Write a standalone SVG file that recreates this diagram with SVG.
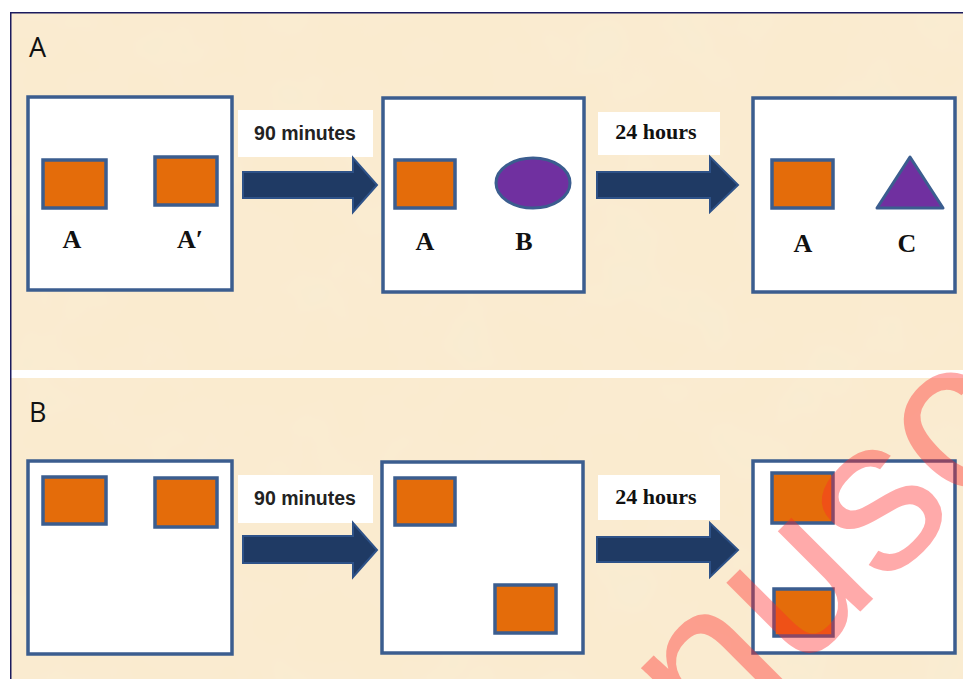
<svg xmlns="http://www.w3.org/2000/svg" width="963" height="679" viewBox="0 0 963 679">
<style>
.frame{fill:#ffffff;stroke:#3b5d8f;stroke-width:3.5}
.sq{fill:#e46c0a;stroke:#3b5d8f;stroke-width:3.5}
.purple{fill:#7030a0;stroke:#3b5d8f;stroke-width:3;stroke-linejoin:round}
.arrow{fill:#1f3a64;stroke:#2e5288;stroke-width:2;stroke-linejoin:miter}
.lblbox{fill:#ffffff}
.panel{font-family:"Open Sans","Liberation Sans",sans-serif;font-size:27px;fill:#111111}
.cal{font-family:"Liberation Sans","Open Sans",sans-serif;font-weight:bold;font-size:19.5px;fill:#222222;text-anchor:middle}
.tms{font-family:"Liberation Serif","Times New Roman",serif;font-weight:bold;font-size:22px;fill:#111111;text-anchor:middle}
.obj{font-family:"Liberation Serif","Times New Roman",serif;font-weight:bold;font-size:26px;fill:#111111;text-anchor:middle}
.wm{font-family:"Liberation Sans",Arial,sans-serif;font-size:218px;fill:#ff2a2a;fill-opacity:0.4}
</style>
<defs>
<filter id="tex" x="0" y="0" width="100%" height="100%">
<feTurbulence type="fractalNoise" baseFrequency="0.012" numOctaves="3" seed="7"/>
<feColorMatrix type="matrix" values="0 0 0 0 0.94  0 0 0 0 0.85  0 0 0 0 0.68  0.8 0 0 0 -0.3"/>
</filter>
</defs>
<rect x="0" y="0" width="963" height="679" fill="#ffffff"/>
<rect x="10" y="12" width="953" height="667" fill="#faebcf"/>
<rect x="10" y="12" width="953" height="667" filter="url(#tex)"/>
<rect x="10" y="370" width="953" height="8" fill="#ffffff"/>
<path d="M10.75 679 V12.75 H963" fill="none" stroke="#1b1b5e" stroke-width="1.5"/>

<g id="panelA-label"><text class="panel" x="29" y="57">A</text></g>
<g id="panelB-label"><text class="panel" x="29" y="422">B</text></g>

<g id="A1">
<rect class="frame" x="28" y="97" width="204" height="193"/>
<rect class="sq" x="43" y="160" width="63" height="48"/>
<rect class="sq" x="155" y="157" width="62" height="48"/>
<text class="obj" x="72" y="248">A</text>
<text class="obj" x="190" y="248">A′</text>
</g>
<g id="A2">
<rect class="frame" x="383" y="98" width="201" height="194"/>
<rect class="sq" x="395" y="160" width="60" height="48"/>
<ellipse class="purple" cx="533" cy="183" rx="37" ry="25"/>
<text class="obj" x="425" y="250">A</text>
<text class="obj" x="524" y="250">B</text>
</g>
<g id="A3">
<rect class="frame" x="753" y="98" width="202" height="194"/>
<rect class="sq" x="772" y="160" width="61" height="48"/>
<polygon class="purple" points="910,157 943,208 877,208"/>
<text class="obj" x="803" y="252">A</text>
<text class="obj" x="907" y="252">C</text>
</g>

<g id="B1">
<rect class="frame" x="28" y="461" width="204" height="193"/>
<rect class="sq" x="43" y="477" width="63" height="47"/>
<rect class="sq" x="155" y="478" width="62" height="49"/>
</g>
<g id="B2">
<rect class="frame" x="382" y="462" width="201" height="191"/>
<rect class="sq" x="395" y="478" width="60" height="47"/>
<rect class="sq" x="495" y="585" width="61" height="48"/>
</g>
<g id="B3">
<rect class="frame" x="753" y="461" width="202" height="192"/>
<rect class="sq" x="772" y="473" width="61" height="50"/>
<rect class="sq" x="774" y="589" width="59" height="47"/>
</g>

<g id="connectors">
<g id="A1-A2">
<rect class="lblbox" x="238" y="110" width="135" height="47"/>
<text class="cal" x="305" y="140">90 minutes</text>
<polygon class="arrow" points="243,172 353,172 353,158 377,185 353,212 353,198 243,198"/>
</g>
<g id="A2-A3">
<rect class="lblbox" x="598" y="112" width="122" height="43"/>
<text class="tms" x="656" y="139">24 hours</text>
<polygon class="arrow" points="597,172 710,172 710,157 738,185 710,212 710,198 597,198"/>
</g>
<g id="B1-B2">
<rect class="lblbox" x="238" y="475" width="135" height="48"/>
<text class="cal" x="305" y="505">90 minutes</text>
<polygon class="arrow" points="243,536 353,536 353,523 377,550 353,577 353,563 243,563"/>
</g>
<g id="B2-B3">
<rect class="lblbox" x="598" y="475" width="122" height="45"/>
<text class="tms" x="656" y="504">24 hours</text>
<polygon class="arrow" points="597,537 710,537 710,523 738,550 710,577 710,562 597,562"/>
</g>
</g>

<text class="wm" transform="translate(712,760) rotate(-45)">nusc</text>
</svg>
